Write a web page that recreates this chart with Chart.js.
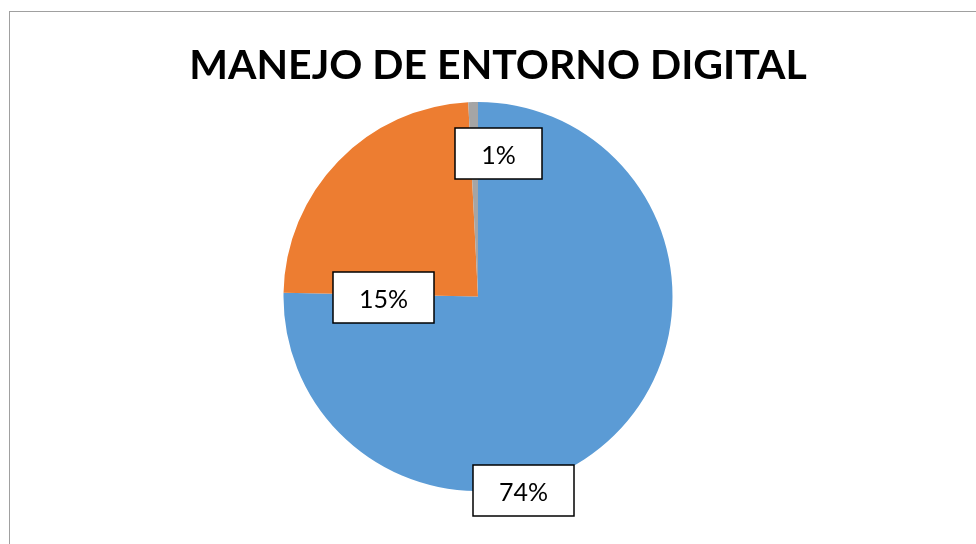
<!DOCTYPE html>
<html>
<head>
<meta charset="utf-8">
<script src="https://cdn.jsdelivr.net/npm/chart.js@4.4.1/dist/chart.umd.min.js"></script>
<style>
  html, body { margin: 0; padding: 0; background: #fff; overflow: hidden; }
  #frame {
    position: absolute; left: 9px; top: 11px;
    width: 1000px; height: 600px;
    border-left: 1px solid #a0a0a0; border-top: 1px solid #a0a0a0;
  }
  #title {
    position: absolute; left: 0; top: 31px; width: 976px;
    text-align: center; font: bold 41px/41px Lato, sans-serif; color: #000;
  }
  #wrap { position: absolute; left: 0; top: 0; width: 976px; height: 532px; }
</style>
</head>
<body>
<div id="frame">
  <div id="wrap"><canvas id="entornoChart"></canvas></div>
  <div id="title">MANEJO DE ENTORNO DIGITAL</div>
</div>
<script>
// Data for the chart
const categorias = ["Categoría 1", "Categoría 2", "Categoría 3"];
const valores = [75.3, 23.9, 0.8];          // slice sizes as drawn
const etiquetas = ["74%", "15%", "1%"];     // data label texts shown
const colores = ["#5B9BD5", "#ED7D31", "#A5A5A5"];

// Boxed data labels, placed around the pie center (angle clockwise from top, distance in radii)
const boxedLabels = {
  id: 'boxedLabels',
  afterDatasetsDraw(chart, args, opts) {
    const meta = chart.getDatasetMeta(0);
    const ctx = chart.ctx;
    meta.data.forEach((arc, i) => {
      const p = opts.places[i];
      const a = p.angle * Math.PI / 180;
      const r = arc.outerRadius * p.dist;
      const x = arc.x + r * Math.sin(a);
      const y = arc.y - r * Math.cos(a);
      ctx.save();
      ctx.font = opts.font;
      const w = Math.round(ctx.measureText(etiquetas[i]).width + opts.padX * 2);
      const h = opts.height;
      const bx = Math.round(x - w / 2), by = Math.round(y - h / 2);
      ctx.fillStyle = '#fff';
      ctx.fillRect(bx, by, w, h);
      ctx.lineWidth = 1.5;
      ctx.strokeStyle = '#000';
      ctx.strokeRect(bx, by, w, h);
      ctx.fillStyle = '#000';
      ctx.textAlign = 'center';
      ctx.textBaseline = 'middle';
      ctx.fillText(etiquetas[i], bx + w / 2, by + h / 2 + 2);
      ctx.restore();
    });
  }
};

const config = {
  type: 'pie',
  data: {
    labels: categorias,
    datasets: [{
      data: valores,
      backgroundColor: colores,
      borderWidth: 0
    }]
  },
  options: {
    responsive: true,
    maintainAspectRatio: false,
    animation: false,
    events: [],
    layout: { padding: { left: 0, right: 40, top: 90, bottom: 53 } },
    plugins: {
      legend: { display: false },
      tooltip: { enabled: false },
      title: { display: false },
      boxedLabels: {
        font: '25px Lato',
        padX: 26,
        height: 51,
        places: [
          { angle: 166.7, dist: 1.026 },
          { angle: 269.1, dist: 0.488 },
          { angle: 8.0, dist: 0.742 }
        ]
      }
    }
  },
  plugins: [boxedLabels]
};

// Create the chart
window.addEventListener('DOMContentLoaded', (event) => {
  const entornoChart = new Chart(document.getElementById("entornoChart"), config);
});
</script>
</body>
</html>
